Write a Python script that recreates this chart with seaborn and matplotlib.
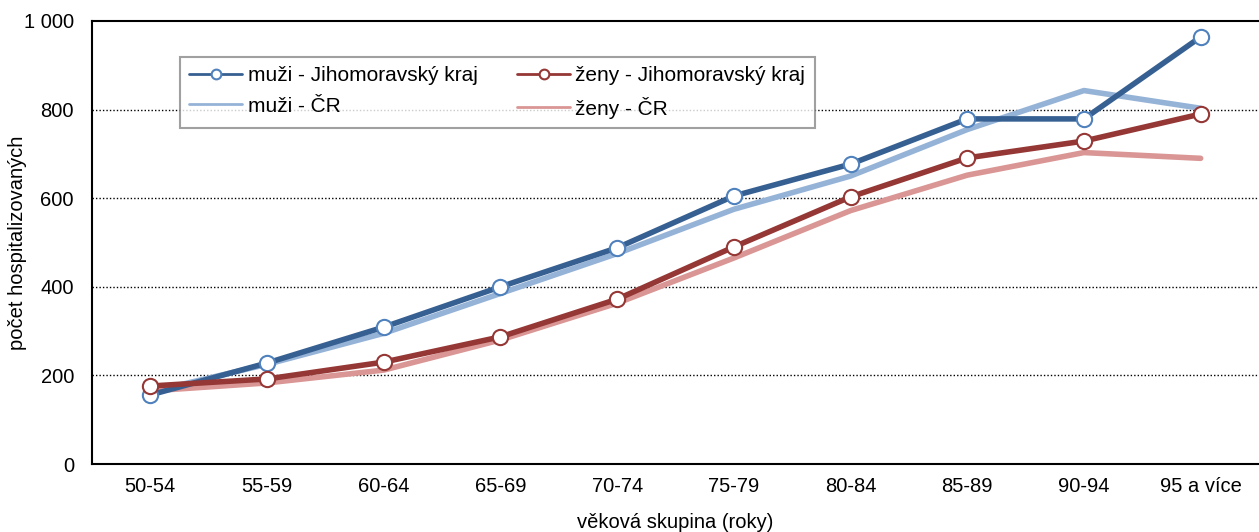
import numpy as np
import pandas as pd
import matplotlib
matplotlib.use('Agg')
import matplotlib.pyplot as plt
import seaborn as sns
from matplotlib.ticker import FuncFormatter

vekove_skupiny = ['50-54', '55-59', '60-64', '65-69', '70-74', '75-79',
                  '80-84', '85-89', '90-94', '95 a více']
muzi_jmk = [156, 228, 309, 400, 488, 605, 677, 779, 779, 964]
muzi_cr = [163, 225, 295, 385, 475, 575, 650, 755, 843, 803]
zeny_jmk = [176, 192, 230, 287, 372, 490, 603, 691, 729, 790]
zeny_cr = [165, 183, 212, 280, 363, 465, 572, 652, 703, 690]

sns.set_style('white')
plt.rcParams['font.family'] = ['Liberation Sans', 'DejaVu Sans']
plt.rcParams['text.color'] = 'black'
plt.rcParams['axes.labelcolor'] = 'black'
plt.rcParams['xtick.color'] = 'black'
plt.rcParams['ytick.color'] = 'black'

fig = plt.figure(figsize=(12.59, 5.32), dpi=100)
ax = fig.add_axes([92 / 1259, 68 / 532, 1167 / 1259, 443 / 532])

# the CR lines first, region lines with markers on top
sns.lineplot(x=vekove_skupiny, y=muzi_cr, ax=ax, color='#95B3D7', lw=4,
             label='muži - ČR', zorder=2, sort=False)
sns.lineplot(x=vekove_skupiny, y=zeny_cr, ax=ax, color='#D99694', lw=4,
             label='ženy - ČR', zorder=2, sort=False)
sns.lineplot(x=vekove_skupiny, y=muzi_jmk, ax=ax, color='#376092', lw=4,
             marker='o', markersize=11, markerfacecolor='white',
             markeredgecolor='#4F81BD', markeredgewidth=1.5,
             label='muži - Jihomoravský kraj', zorder=3, sort=False)
sns.lineplot(x=vekove_skupiny, y=zeny_jmk, ax=ax, color='#953735', lw=4,
             marker='o', markersize=11, markerfacecolor='white',
             markeredgecolor='#953735', markeredgewidth=1.5,
             label='ženy - Jihomoravský kraj', zorder=3, sort=False)

ax.set_xlim(-0.5, 9.45)
ax.set_ylim(0, 1000)
ax.set_yticks([0, 200, 400, 600, 800, 1000])
ax.yaxis.set_major_formatter(FuncFormatter(lambda v, p: f'{int(v):,}'.replace(',', ' ')))
ax.set_xticks(range(len(vekove_skupiny)))
ax.set_xticklabels(vekove_skupiny)
ax.set_xticks(np.arange(-0.5, 10, 1), minor=True)
ax.tick_params(axis='x', which='major', length=0, pad=9, labelsize=14.5)
ax.tick_params(axis='x', which='minor', length=6, width=1.2, direction='out')
ax.tick_params(axis='y', length=6, width=1.2, direction='out', labelsize=14.5, pad=7)

for v in [200, 400, 600, 800]:
    ax.axhline(v, color='black', lw=1, ls=(0, (1, 1.5)), zorder=1)

for s in ['left', 'bottom', 'top']:
    ax.spines[s].set_color('black')
    ax.spines[s].set_linewidth(1.5)
ax.spines['right'].set_visible(False)

ax.set_ylabel('počet hospitalizovaných', fontsize=14.5)
ax.set_xlabel('věková skupina (roky)', fontsize=14.5)
ax.yaxis.set_label_coords(-0.056, 0.5)
ax.xaxis.set_label_coords(0.5, -0.11)

h, l = ax.get_legend_handles_labels()
order = [2, 0, 3, 1]
leg = ax.legend([h[i] for i in order], [l[i] for i in order], ncol=2,
                loc='upper left', bbox_to_anchor=(0.0754, 0.919), fontsize=15,
                frameon=True, fancybox=False, edgecolor='#888888',
                handlelength=2.55, handletextpad=0.25, columnspacing=1.9,
                borderpad=0.45, labelspacing=0.55, borderaxespad=0)
leg.get_frame().set_linewidth(1.5)
for line in leg.get_lines():
    line.set_linewidth(2)
    line.set_markersize(7)

fig.savefig('out.png', dpi=100)
